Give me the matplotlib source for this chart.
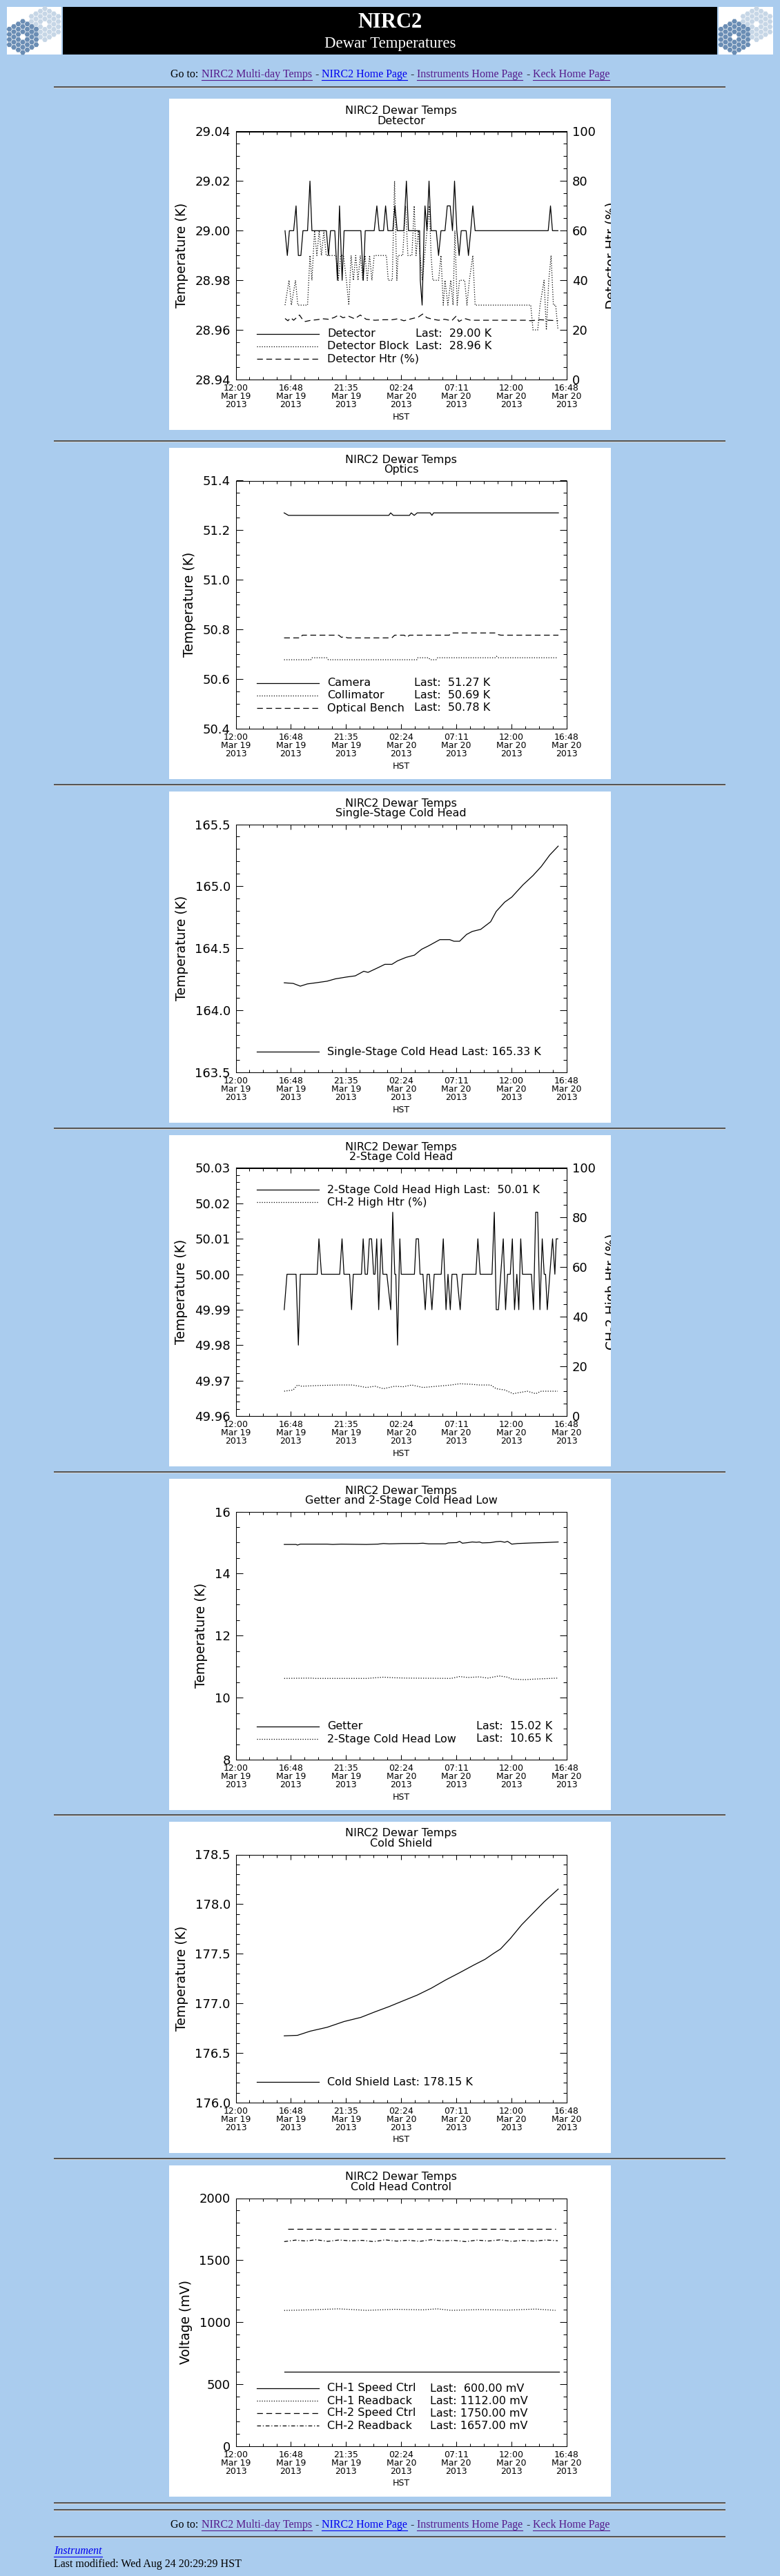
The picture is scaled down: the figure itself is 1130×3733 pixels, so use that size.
"""NIRC2 dewar temperatures page: seven IDL-style strip charts on a light blue web page."""
import numpy as np
import matplotlib
matplotlib.use("Agg")
import matplotlib.pyplot as plt
from matplotlib.patches import Rectangle, RegularPolygon
from matplotlib.ticker import MultipleLocator, FormatStrFormatter
from matplotlib.transforms import Bbox, TransformedBbox

plt.rcParams.update({
    "font.family": "DejaVu Sans",
    "lines.scale_dashes": False,
    "axes.linewidth": 0.75,
})

W, H = 1130, 3733
BG = "#AACCEE"
SERIF = ["Liberation Serif", "DejaVu Serif"]
LINK, VISITED = "#0000EE", "#551A8B"
LS = {"solid": "-", "dot": (0, (0.9, 1.6)), "dash": (0, (6.0, 3.6)),
      "dashdot": (0, (4.0, 2.0, 0.9, 2.0))}

# time axis: hours after 12:00 HST, Mar 19 2013
XTICKS = [0, 4.8, 9.6, 14.4, 19.2, 24.0, 28.8]
XLABELS = ["12:00\nMar 19\n2013", "16:48\nMar 19\n2013", "21:35\nMar 19\n2013",
           "02:24\nMar 20\n2013", "07:11\nMar 20\n2013", "12:00\nMar 20\n2013",
           "16:48\nMar 20\n2013"]

# ---- data (hours, value) ----
DET = [(4.29, 29.00), (4.49, 28.99), (4.67, 29.00), (5.04, 29.00), (5.25, 29.01), (5.45, 28.99),
       (5.67, 28.99), (5.85, 29.00), (6.25, 29.00), (6.46, 29.02), (6.63, 29.00), (7.89, 29.00),
       (8.07, 28.99), (8.25, 29.00), (8.62, 29.00), (8.85, 28.98), (9.03, 29.01), (9.26, 28.98),
       (9.43, 29.00), (10.89, 29.00), (11.10, 28.98), (11.27, 29.00), (12.05, 29.00), (12.28, 29.01),
       (12.48, 29.00), (12.86, 29.00), (13.04, 29.01), (13.24, 29.00), (13.67, 29.00), (13.85, 29.01),
       (14.05, 29.00), (14.63, 29.00), (14.85, 29.02), (15.03, 29.00), (16.00, 29.00), (16.06, 28.98),
       (16.22, 28.97), (16.39, 29.00), (16.47, 29.01), (16.64, 29.00), (16.82, 29.02), (17.00, 29.00),
       (17.45, 29.00), (17.65, 28.99), (17.86, 29.00), (18.21, 29.00), (18.41, 29.01), (18.66, 29.01),
       (18.86, 29.00), (19.04, 29.02), (19.24, 29.00), (19.44, 28.99), (19.62, 29.00), (20.05, 29.00),
       (20.25, 28.99), (20.45, 29.00), (20.63, 29.01), (20.83, 29.00), (27.19, 29.00), (27.39, 29.01),
       (27.56, 29.00), (28.04, 29.00)]
DET_BLOCK = [(4.29, 28.97), (4.64, 28.98), (4.84, 28.97), (5.20, 28.98), (5.40, 28.97), (6.25, 28.97),
             (6.46, 28.99), (6.63, 28.98), (6.86, 29.00), (7.06, 28.99), (7.26, 29.00), (7.46, 28.99),
             (7.67, 29.00), (7.87, 28.99), (8.73, 28.99), (8.93, 28.98), (9.13, 28.99), (9.38, 28.99),
             (9.63, 28.98), (9.84, 28.97), (10.04, 28.99), (10.24, 28.98), (10.44, 28.99), (10.64, 28.98),
             (10.84, 28.99), (11.05, 28.98), (11.25, 28.99), (11.45, 28.98), (11.65, 28.99), (11.85, 28.98),
             (12.05, 28.99), (12.36, 28.99), (13.11, 28.99), (13.27, 28.98), (13.62, 28.98), (13.82, 29.02),
             (14.02, 28.98), (14.12, 28.99), (14.53, 28.99), (14.78, 29.01), (14.98, 28.99), (15.33, 28.99),
             (15.53, 29.01), (15.69, 28.99), (15.89, 29.00), (16.04, 28.99), (16.24, 28.98), (16.44, 28.99),
             (16.64, 29.00), (16.85, 29.01), (17.00, 28.99), (17.15, 28.98), (17.65, 28.98), (17.86, 28.99),
             (18.06, 28.97), (18.21, 28.98), (18.46, 28.97), (18.71, 28.98), (18.91, 28.97), (19.07, 29.00),
             (19.27, 28.97), (19.47, 28.98), (19.92, 28.98), (20.12, 28.97), (20.33, 28.98), (20.63, 28.99),
             (20.83, 28.97), (25.67, 28.97), (25.87, 28.96), (26.28, 28.96), (26.48, 28.97), (26.83, 28.98),
             (27.03, 28.96), (27.24, 28.98), (27.44, 28.99), (27.64, 28.97), (27.84, 28.97), (28.04, 28.96)]
DET_HTR = [(4.29, 24.6), (4.54, 23.7), (4.79, 24.9), (5.04, 23.9), (5.30, 25.0), (5.55, 26.0),
           (5.80, 24.3), (6.05, 23.4), (6.56, 23.9), (7.06, 24.1), (7.57, 24.5), (8.07, 24.3),
           (8.57, 25.0), (8.95, 26.0), (9.33, 24.9), (9.84, 25.5), (10.34, 24.5), (10.84, 26.0),
           (11.35, 24.3), (12.11, 23.9), (12.86, 24.1), (13.62, 24.1), (14.12, 24.5), (14.63, 23.7),
           (15.38, 24.6), (15.89, 25.2), (16.27, 26.4), (16.64, 24.9), (17.15, 24.3), (17.65, 23.9),
           (18.16, 24.3), (18.79, 23.7), (19.17, 25.5), (19.42, 23.4), (19.92, 24.6), (20.43, 23.9),
           (21.69, 23.9), (24.21, 23.9), (25.22, 23.9), (25.72, 23.7), (26.48, 24.1), (27.24, 23.9),
           (28.04, 23.7)]

CAMERA = [(4.21, 51.27), (4.59, 51.26), (13.32, 51.26), (13.48, 51.27), (13.71, 51.26), (15.12, 51.26),
          (15.27, 51.27), (15.53, 51.26), (15.79, 51.27), (16.92, 51.27), (17.07, 51.26), (17.22, 51.27),
          (28.08, 51.27)]
COLLIMATOR = [(4.21, 50.678), (6.52, 50.678), (6.65, 50.686), (7.93, 50.686), (8.06, 50.678),
              (15.76, 50.678), (15.84, 50.686), (16.79, 50.686), (16.92, 50.678), (17.43, 50.678),
              (17.56, 50.686), (22.56, 50.686), (22.69, 50.692), (22.82, 50.686), (27.95, 50.686)]
BENCH = [(4.21, 50.766), (5.62, 50.766), (5.80, 50.777), (8.96, 50.777), (9.21, 50.768), (9.42, 50.772),
         (9.73, 50.766), (13.58, 50.766), (13.83, 50.777), (14.66, 50.777), (14.91, 50.768),
         (15.12, 50.777), (18.58, 50.777), (18.76, 50.786), (22.69, 50.786), (22.87, 50.779),
         (23.08, 50.777), (28.08, 50.777)]

SINGLE = [(4.22, 164.222), (5.00, 164.217), (5.62, 164.195), (6.23, 164.213), (6.97, 164.222),
          (7.95, 164.235), (8.68, 164.254), (9.67, 164.269), (10.40, 164.278), (11.14, 164.315),
          (11.51, 164.306), (12.36, 164.343), (12.98, 164.371), (13.59, 164.371), (14.08, 164.399),
          (14.82, 164.427), (15.55, 164.445), (16.17, 164.492), (16.78, 164.520), (17.76, 164.570),
          (18.62, 164.570), (18.99, 164.557), (19.48, 164.557), (20.09, 164.612), (20.58, 164.636),
          (21.32, 164.653), (22.18, 164.714), (22.67, 164.798), (23.40, 164.872), (24.02, 164.913),
          (25.00, 165.012), (25.86, 165.086), (26.59, 165.160), (27.33, 165.253), (28.06, 165.324)]

CH2_HIGH = [(4.22, 49.99), (4.46, 50.00), (5.25, 50.00), (5.45, 49.98), (5.62, 50.00), (7.09, 50.00),
            (7.24, 50.01), (7.46, 50.00), (9.05, 50.00), (9.25, 50.01), (9.42, 50.00), (9.91, 50.00),
            (10.08, 49.99), (10.23, 50.00), (10.94, 50.00), (11.09, 50.01), (11.26, 50.00), (11.46, 50.00),
            (11.63, 50.01), (11.82, 50.01), (12.00, 50.00), (12.12, 50.00), (12.27, 50.01), (12.44, 49.99),
            (12.66, 50.01), (12.81, 50.00), (13.15, 50.00), (13.49, 49.99), (13.66, 50.0175),
            (13.84, 50.00), (13.93, 50.00), (14.08, 49.98), (14.28, 50.01), (14.40, 50.00), (15.55, 50.00),
            (15.70, 50.01), (15.90, 50.01), (16.04, 50.00), (16.29, 50.00), (16.49, 49.99), (16.66, 50.00),
            (16.85, 50.00), (17.07, 49.99), (17.27, 50.00), (17.88, 50.00), (18.06, 50.01), (18.30, 49.99),
            (18.47, 50.00), (18.67, 49.99), (18.82, 50.00), (19.23, 50.00), (19.53, 49.99), (19.72, 50.00),
            (20.90, 50.00), (21.07, 50.01), (21.27, 50.00), (22.30, 50.00), (22.50, 50.0175),
            (22.67, 49.99), (22.86, 49.99), (23.06, 50.00), (23.28, 50.01), (23.48, 49.99), (23.65, 50.00),
            (23.89, 50.00), (24.07, 50.01), (24.26, 49.99), (24.46, 50.00), (24.63, 49.99), (24.80, 50.01),
            (24.95, 50.00), (25.73, 50.00), (25.91, 49.99), (26.10, 50.0175), (26.27, 50.0175),
            (26.47, 49.99), (26.67, 50.01), (26.84, 50.00), (26.96, 50.00), (27.11, 49.99), (27.33, 50.00),
            (27.57, 50.01), (27.77, 50.00), (27.89, 50.01), (28.02, 50.01)]
CH2_HTR = [(4.22, 10.0), (5.00, 10.5), (5.37, 12.5), (5.74, 12.0), (7.21, 12.3), (8.93, 12.5),
           (10.16, 12.5), (11.38, 11.5), (12.12, 12.0), (12.85, 11.0), (13.84, 12.0), (14.57, 11.8),
           (15.31, 12.5), (16.29, 11.5), (17.52, 12.0), (18.74, 12.5), (19.48, 13.0), (20.46, 12.8),
           (21.20, 12.5), (22.18, 12.5), (22.67, 11.0), (23.40, 10.5), (24.14, 9.0), (24.75, 9.5),
           (25.37, 10.0), (26.10, 9.0), (26.59, 10.0), (27.33, 10.0), (28.02, 10.0)]

GETTER = [(4.22, 14.94), (5.25, 14.94), (5.37, 14.92), (5.62, 14.95), (7.95, 14.95), (8.44, 14.94),
          (9.17, 14.95), (11.38, 14.94), (12.36, 14.95), (12.85, 14.97), (13.35, 14.96), (14.57, 14.97),
          (15.80, 14.97), (16.29, 14.98), (16.78, 14.96), (18.25, 14.96), (18.50, 14.99), (19.23, 15.00),
          (19.48, 15.04), (19.72, 14.98), (20.21, 15.00), (20.58, 15.02), (20.95, 15.01), (21.20, 15.02),
          (21.44, 14.99), (22.18, 15.00), (22.67, 15.03), (23.04, 15.04), (23.40, 15.01), (23.65, 15.04),
          (24.02, 14.95), (24.51, 14.97), (25.86, 14.99), (26.84, 15.00), (28.06, 15.02)]
CH2_LOW = [(4.22, 10.62), (6.48, 10.63), (6.97, 10.62), (11.38, 10.62), (12.85, 10.66), (13.84, 10.64),
           (14.82, 10.63), (18.74, 10.62), (19.48, 10.68), (20.21, 10.65), (21.20, 10.67), (21.93, 10.63),
           (22.91, 10.70), (23.65, 10.66), (24.02, 10.60), (25.12, 10.58), (26.10, 10.60), (28.06, 10.63)]

SHIELD = [(4.22, 176.673), (5.37, 176.678), (6.48, 176.720), (7.95, 176.759), (9.42, 176.817),
          (10.89, 176.859), (12.12, 176.915), (13.35, 176.968), (14.57, 177.026), (15.80, 177.084),
          (17.03, 177.154), (18.25, 177.235), (19.48, 177.309), (20.71, 177.386), (21.69, 177.444),
          (22.42, 177.502), (23.04, 177.548), (23.89, 177.653), (24.88, 177.792), (25.86, 177.908),
          (26.84, 178.024), (28.06, 178.152)]

CH1_SPEED = [(4.22, 600), (28.14, 600)]
CH1_READ = [(4.22, 1095), (6.48, 1100), (8.93, 1108), (10.16, 1102), (11.38, 1096), (13.84, 1104),
            (16.29, 1100), (17.52, 1108), (18.74, 1096), (21.20, 1102), (23.65, 1098), (26.10, 1106),
            (27.82, 1096)]
CH2_SPEED = [(4.51, 1750), (27.82, 1750)]
CH2_READ = [(4.22, 1650), (5.2, 1662), (6.1, 1655), (7.0, 1665), (8.0, 1652), (9.0, 1663), (10.0, 1656),
            (11.0, 1660), (12.0, 1650), (13.0, 1664), (14.0, 1654), (15.0, 1661), (16.0, 1652),
            (17.0, 1665), (18.0, 1656), (19.0, 1660), (20.0, 1650), (21.0, 1662), (22.0, 1655),
            (23.0, 1664), (24.0, 1652), (25.0, 1660), (26.0, 1654), (27.0, 1663), (28.02, 1657)]

CHARTS = [
    dict(sub="Detector", ylim=(28.94, 29.04), maj=0.02, mnr=0.005, fmt="%.2f", ylabel="Temperature (K)",
         series=[(DET, "solid", 0), (DET_BLOCK, "dot", 0), (DET_HTR, "dash", 1)],
         right=dict(lim=(0, 100), maj=20, mnr=5, label="Detector Htr (%)"),
         legend=["Detector Last:  29.00 K", "Detector Block Last:  28.96 K", "Detector Htr (%)"],
         last_x=357, leg_top=False),
    dict(sub="Optics", ylim=(50.4, 51.4), maj=0.2, mnr=0.05, fmt="%.1f", ylabel="Temperature (K)",
         series=[(CAMERA, "solid", 0), (COLLIMATOR, "dot", 0), (BENCH, "dash", 0)], right=None,
         legend=["Camera Last:  51.27 K", "Collimator Last:  50.69 K", "Optical Bench Last:  50.78 K"],
         last_x=355, leg_top=False),
    dict(sub="Single-Stage Cold Head", ylim=(163.5, 165.5), maj=0.5, mnr=0.1, fmt="%.1f",
         ylabel="Temperature (K)", series=[(SINGLE, "solid", 0)], right=None,
         legend=["Single-Stage Cold Head Last: 165.33 K"], last_x=None, leg_top=False),
    dict(sub="2-Stage Cold Head", ylim=(49.96, 50.03), maj=0.01, mnr=0.002, fmt="%.2f",
         ylabel="Temperature (K)", series=[(CH2_HIGH, "solid", 0), (CH2_HTR, "dot", 1)],
         right=dict(lim=(0, 100), maj=20, mnr=5, label="CH-2 High Htr (%)"),
         legend=["2-Stage Cold Head High Last:  50.01 K", "CH-2 High Htr (%)"], last_x=None, leg_top=True),
    dict(sub="Getter and 2-Stage Cold Head Low", ylim=(8, 16), maj=2, mnr=0.5, fmt="%d",
         ylabel="Temperature (K)", series=[(GETTER, "solid", 0), (CH2_LOW, "dot", 0)], right=None,
         legend=["Getter Last:  15.02 K", "2-Stage Cold Head Low Last:  10.65 K"], last_x=445, leg_top=False),
    dict(sub="Cold Shield", ylim=(176.0, 178.5), maj=0.5, mnr=0.1, fmt="%.1f", ylabel="Temperature (K)",
         series=[(SHIELD, "solid", 0)], right=None,
         legend=["Cold Shield Last: 178.15 K"], last_x=None, leg_top=False),
    dict(sub="Cold Head Control", ylim=(0, 2000), maj=500, mnr=100, fmt="%d", ylabel="Voltage (mV)",
         series=[(CH1_SPEED, "solid", 0), (CH1_READ, "dot", 0), (CH2_SPEED, "dash", 0),
                 (CH2_READ, "dashdot", 0)], right=None,
         legend=["CH-1 Speed Ctrl Last:  600.00 mV", "CH-1 Readback Last: 1112.00 mV",
                 "CH-2 Speed Ctrl Last: 1750.00 mV", "CH-2 Readback Last: 1657.00 mV"],
         last_x=378, leg_top=False),
]
PANEL_TOPS = [143, 649, 1147, 1645, 2143, 2640, 3138]
HR_YS = [126, 639, 1137, 1635, 2133, 2630, 3128, 3627, 3637, 3676]

PANEL_L = 245
AX_L, AX_R, AX_T, AX_B = 96.5, 576, 47.5, 407

fig = plt.figure(figsize=(W / 100, H / 100), dpi=100, facecolor=BG)
page = fig.add_axes([0, 0, 1, 1])
page.set_xlim(0, W)
page.set_ylim(H, 0)
page.axis("off")


def logo(x0, y0):
    page.add_patch(Rectangle((x0, y0), 79, 69, facecolor="white", edgecolor="none"))
    s = 4.33
    for (cx, cy, col) in [(x0 + 55, y0 + 25, "#C6D6E6"), (x0 + 23, y0 + 43.5, "#6A8DB4")]:
        for q in range(-3, 4):
            for r in range(-3, 4):
                if abs(q + r) > 3 or (q == 0 and r == 0):
                    continue
                hx = cx + 1.5 * s * q
                hy = cy + np.sqrt(3) * s * (r + q / 2)
                page.add_patch(RegularPolygon((hx, hy), 6, radius=s * 0.9,
                                              orientation=np.pi / 6, facecolor=col, edgecolor="none"))


def hr(y):
    page.add_patch(Rectangle((78, y - 1), 973, 2, facecolor="#555555", edgecolor="none"))
    page.add_patch(Rectangle((78, y + 1), 973, 1, facecolor="#D4D4D4", edgecolor="none"))


def nav_line(y):
    items = [("Go to:", "black", False), ("NIRC2 Multi-day Temps", VISITED, True), ("-", "black", False),
             ("NIRC2 Home Page", LINK, True), ("-", "black", False),
             ("Instruments Home Page", VISITED, True), ("-", "black", False),
             ("Keck Home Page", VISITED, True)]
    texts = [page.text(0, y, s, color=c, fontsize=11.5, family=SERIF, va="center", ha="left")
             for s, c, _ in items]
    rend = fig.canvas.get_renderer()
    widths = [t.get_window_extent(rend).width for t in texts]
    gap = 4.5
    x = 565 - (sum(widths) + gap * (len(widths) - 1)) / 2
    for t, w, (s, c, u) in zip(texts, widths, items):
        t.set_x(x)
        if u:
            page.plot([x, x + w], [y + 7.5, y + 7.5], color=c, lw=0.8)
        x += w + gap


def chart(top, spec):
    L = PANEL_L
    page.add_patch(Rectangle((L, top), 640, 480, facecolor="white", edgecolor="none"))
    ax = fig.add_axes([(L + AX_L) / W, 1 - (top + AX_B) / H, (AX_R - AX_L) / W, (AX_B - AX_T) / H])
    ax.patch.set_visible(False)
    ax.set_xlim(0, 28.8)
    ax.set_ylim(*spec["ylim"])
    ax.set_xticks(XTICKS)
    ax.set_xticklabels(XLABELS, fontsize=9, linespacing=0.9)
    ax.xaxis.set_minor_locator(MultipleLocator(1.2))
    ax.tick_params(axis="x", which="both", direction="in", top=True, pad=4.5, width=0.75)
    ax.tick_params(axis="x", which="major", length=5.2)
    ax.tick_params(axis="x", which="minor", length=2.6)
    ax.yaxis.set_major_locator(MultipleLocator(spec["maj"]))
    ax.yaxis.set_minor_locator(MultipleLocator(spec["mnr"]))
    ax.yaxis.set_major_formatter(FormatStrFormatter(spec["fmt"]))
    axes = [ax]
    right = spec["right"]
    ax.tick_params(axis="y", which="both", direction="in", right=right is None,
                   labelsize=13, pad=5.5, width=0.75)
    ax.tick_params(axis="y", which="major", length=6.9)
    ax.tick_params(axis="y", which="minor", length=3.5)
    ax.set_ylabel(spec["ylabel"], fontsize=13.5, labelpad=7)
    if right is not None:
        ax2 = ax.twinx()
        ax2.patch.set_visible(False)
        ax2.set_ylim(*right["lim"])
        ax2.yaxis.set_major_locator(MultipleLocator(right["maj"]))
        ax2.yaxis.set_minor_locator(MultipleLocator(right["mnr"]))
        ax2.yaxis.set_major_formatter(FormatStrFormatter("%d"))
        ax2.tick_params(axis="y", which="both", direction="in", labelsize=13, pad=5.5, width=0.75)
        ax2.tick_params(axis="y", which="major", length=6.9)
        ax2.tick_params(axis="y", which="minor", length=3.5)
        axes.append(ax2)
        lab = page.text(L + 641, top + 227, right["label"], rotation=90, fontsize=13.5,
                        ha="center", va="center", clip_on=True)
        lab.set_clip_box(TransformedBbox(
            Bbox.from_extents(L / W, 1 - (top + 480) / H, (L + 640) / W, 1 - top / H),
            fig.transFigure))
    for a in axes:
        for sp in a.spines.values():
            sp.set_linewidth(0.75)

    for data, style, side in spec["series"]:
        arr = np.array(data, dtype=float)
        axes[side].plot(arr[:, 0], arr[:, 1], color="black", lw=0.9, linestyle=LS[style])

    # titles
    cx = L + (AX_L + AX_R) / 2
    page.text(cx, top + 17, "NIRC2 Dewar Temps", fontsize=11.5, ha="center", va="center")
    page.text(cx, top + 32, spec["sub"], fontsize=11.5, ha="center", va="center")
    page.text(cx, top + 461, "HST", fontsize=9, ha="center", va="center")

    # legend
    n = len(spec["legend"])
    for i, (label, (_, style, _)) in enumerate(zip(spec["legend"], spec["series"])):
        y = top + (79 + 18 * i if spec["leg_top"] else 377 - 18 * (n - 1 - i))
        page.plot([L + 127, L + 217], [y, y], color="black", lw=0.9, linestyle=LS[style])
        if spec["last_x"] is not None and "Last:" in label:
            name, rest = label.split("Last:")
            page.text(L + 229, y, name.strip(), fontsize=11.5, va="center", ha="left")
            page.text(L + spec["last_x"], y, "Last:" + rest, fontsize=11.5, va="center", ha="left")
        else:
            page.text(L + 229, y, label, fontsize=11.5, va="center", ha="left")


# header
logo(10, 10)
logo(1041, 10)
page.add_patch(Rectangle((91, 10), 948, 69, facecolor="black", edgecolor="none"))
page.text(565, 32, "NIRC2", color="white", fontsize=22, fontweight="bold", family=SERIF,
          ha="center", va="center")
page.text(565, 63, "Dewar Temperatures", color="white", fontsize=16.5, family=SERIF,
          ha="center", va="center")
nav_line(108)

for y in HR_YS:
    hr(y)

for top, spec in zip(PANEL_TOPS, CHARTS):
    chart(top, spec)

# footer
nav_line(3659)
page.text(78, 3697, "Instrument", color=LINK, fontsize=11.5, family=SERIF, style="italic",
          ha="left", va="center")
page.plot([78, 148], [3704.5, 3704.5], color=LINK, lw=0.8)
page.text(78, 3716, "Last modified: Wed Aug 24 20:29:29 HST", color="black", fontsize=11.5,
          family=SERIF, ha="left", va="center")

fig.savefig("out.png", dpi=100, facecolor=BG)
